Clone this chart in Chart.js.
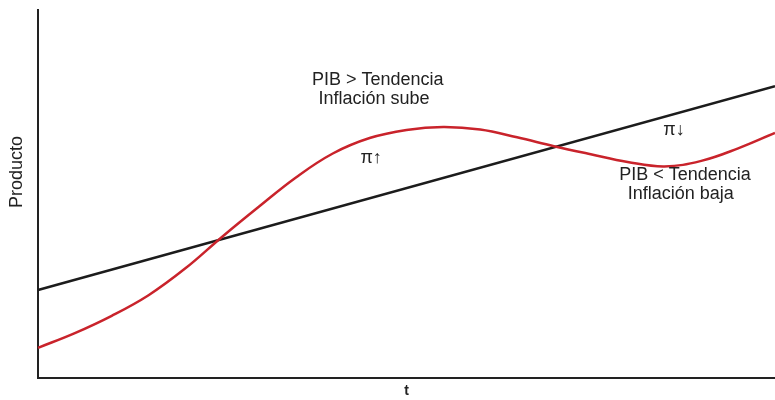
<!DOCTYPE html>
<html>
<head>
<meta charset="utf-8">
<script src="https://cdn.jsdelivr.net/npm/chart.js@4.4.1/dist/chart.umd.min.js"></script>
<style>
  html, body { margin: 0; padding: 0; background: #fff; }
  #wrap { width: 775px; height: 400px; }
</style>
</head>
<body>
<div id="wrap"><canvas id="grafico"></canvas></div>
<script>
// Datos (eje t de 0 a 100, producto de 0 a 100)
const tiempo = [0, 5, 10, 15, 20, 25, 30, 35, 40, 45, 50, 55, 60, 65, 70, 75, 80, 85, 90, 95, 100];
const pib = [8.2, 12.2, 16.9, 22.5, 29.8, 38.4, 46.6, 54.5, 61.0, 65.2, 67.4, 68.2, 67.5, 65.4, 63.0, 60.8, 58.7, 57.5, 59.0, 62.4, 66.6];
const tendenciaT = [0, 100];
const tendencia = [23.9, 79.3];

const etiquetas = [
    { texto: 'PIB > Tendencia', t: 46.1, y: 81.0 },
    { texto: 'Inflación sube', t: 45.6, y: 75.8 },
    { texto: 'π↑', t: 45.2, y: 59.8 },
    { texto: 'π↓', t: 86.3, y: 67.4 },
    { texto: 'PIB < Tendencia', t: 87.8, y: 55.2 },
    { texto: 'Inflación baja', t: 87.2, y: 50.0 }
];
const tituloY = 'Producto';
const tituloX = 't';

const FUENTE = "'Liberation Sans', Arial, sans-serif";
const ROJO = '#c9232b';
const NEGRO = '#1c1c1c';

// Textos sobre el gráfico y título del eje vertical
const textosPlugin = {
    id: 'textos',
    afterDatasetsDraw(chart) {
        const { ctx, scales: { x, y } } = chart;
        ctx.save();
        ctx.fillStyle = '#222';
        ctx.font = '18px ' + FUENTE;
        ctx.textAlign = 'center';
        ctx.textBaseline = 'middle';
        etiquetas.forEach(e => {
            ctx.fillText(e.texto, x.getPixelForValue(e.t), y.getPixelForValue(e.y));
        });
        // título eje Y
        ctx.translate(17, y.getPixelForValue(56));
        ctx.rotate(-Math.PI / 2);
        ctx.fillText(tituloY, 0, 0);
        ctx.restore();
    }
};

const ctx = document.getElementById('grafico');
new Chart(ctx, {
    type: 'line',
    data: {
        datasets: [
            {
                label: 'PIB',
                data: tiempo.map((t, i) => ({ x: t, y: pib[i] })),
                borderColor: ROJO,
                borderWidth: 2.5,
                pointRadius: 0,
                tension: 0.4,
                clip: false
            },
            {
                label: 'Tendencia',
                data: tendenciaT.map((t, i) => ({ x: t, y: tendencia[i] })),
                borderColor: NEGRO,
                borderWidth: 2.5,
                pointRadius: 0,
                clip: false
            }
        ]
    },
    options: {
        responsive: true,
        maintainAspectRatio: false,
        animation: false,
        layout: { padding: { top: 10, right: 0, left: 0, bottom: 0 } },
        plugins: {
            legend: { display: false },
            tooltip: { enabled: false }
        },
        scales: {
            x: {
                type: 'linear',
                min: 0,
                max: 100,
                ticks: { display: false },
                grid: { display: true, drawOnChartArea: false, drawTicks: false, tickLength: 0 },
                border: { display: true, color: '#222', width: 2 },
                title: {
                    display: true,
                    text: tituloX,
                    color: '#222',
                    font: { family: FUENTE, size: 14, weight: 'bold' },
                    padding: { top: 6, bottom: 0 }
                },
                afterFit: s => { s.height = 22; }
            },
            y: {
                type: 'linear',
                min: 0,
                max: 100,
                ticks: { display: false },
                grid: { display: true, drawOnChartArea: false, drawTicks: false, tickLength: 0 },
                border: { display: true, color: '#222', width: 2 },
                afterFit: s => { s.width = 38; }
            }
        }
    },
    plugins: [textosPlugin]
});
</script>
</body>
</html>
